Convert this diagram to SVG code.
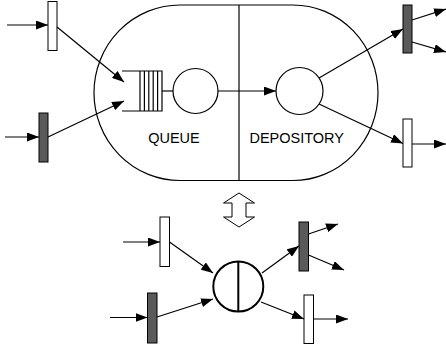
<svg xmlns="http://www.w3.org/2000/svg" width="446" height="349" viewBox="0 0 446 349">
<style>
.ln{stroke:#000;stroke-width:1.2;fill:none}
.ar{stroke:#000;stroke-width:1.2;fill:none;marker-end:url(#ah)}
.wb{fill:#fff;stroke:#000;stroke-width:1}
.db{fill:#5a5a5a;stroke:#000;stroke-width:1}
.lbl{font-family:"Liberation Sans",Arial,sans-serif;font-size:14.5px;fill:#000;text-anchor:middle}
</style>
<defs>
<marker id="ah" markerUnits="userSpaceOnUse" markerWidth="12" markerHeight="9" refX="12" refY="4.5" orient="auto">
<path d="M0,0 L12,4.5 L0,9 z" fill="#000"/>
</marker>
</defs>
<rect width="446" height="349" fill="#fff"/>
<g id="system">
<path class="ln" d="M180,5 H293 A85,87.75 0 0 1 293,180.5 H180 A86,87.75 0 0 1 180,5 Z"/>
<line class="ln" x1="239" y1="5" x2="239" y2="180.5"/>
</g>
<g id="queue">
<path class="ln" d="M122,71 H162 V111 H122"/>
<path class="ln" d="M140,71 V111 M144.4,71 V111 M148.8,71 V111 M153.2,71 V111 M157.6,71 V111"/>
<circle class="ln" cx="195.5" cy="91" r="22.5"/>
<text class="lbl" x="174" y="142.5">QUEUE</text>
</g>
<g id="depository">
<circle class="ln" cx="299.5" cy="91" r="23.5"/>
<text class="lbl" x="296.7" y="142.5">DEPOSITORY</text>
</g>
<g id="in-white-top"><rect class="wb" x="48" y="1.5" width="9" height="49"/></g>
<g id="in-dark-top"><rect class="db" x="39" y="113" width="9" height="49"/></g>
<g id="out-dark-top"><rect class="db" x="403" y="5" width="9" height="48"/></g>
<g id="out-white-top"><rect class="wb" x="403" y="119" width="9" height="48"/></g>
<g id="double-arrow">
<path fill="#fff" stroke="#000" stroke-width="1" d="M239,193 L254.5,203 H246 V217 H254.5 L239,227 L223.5,217 H232 V203 H223.5 Z"/>
</g>
<g id="in-white-bottom"><rect class="wb" x="160" y="217" width="9.5" height="49.5"/></g>
<g id="in-dark-bottom"><rect class="db" x="147.5" y="293" width="9.5" height="50"/></g>
<g id="combined">
<circle fill="#fff" stroke="#000" stroke-width="2" cx="238.3" cy="286.5" r="25"/>
<line stroke="#000" stroke-width="2" x1="238.3" y1="261.5" x2="238.3" y2="311.5"/>
</g>
<g id="out-dark-bottom"><rect class="db" x="299" y="222" width="9.5" height="49"/></g>
<g id="out-white-bottom"><rect class="wb" x="304" y="295" width="9.5" height="48.5"/></g>
<g id="connectors">
<line class="ar" x1="7" y1="25" x2="48" y2="25"/>
<line class="ar" x1="57" y1="27" x2="124" y2="82"/>
<line class="ar" x1="5" y1="137" x2="39" y2="137"/>
<line class="ar" x1="48" y1="137" x2="124" y2="101"/>
<line class="ln" x1="162" y1="91" x2="173" y2="91"/>
<line class="ar" x1="218" y1="91" x2="276" y2="91"/>
<line class="ar" x1="319" y1="78" x2="403" y2="29"/>
<line class="ar" x1="412" y1="20" x2="446" y2="9"/>
<line class="ar" x1="412" y1="42" x2="446" y2="52"/>
<line class="ar" x1="319" y1="104" x2="403" y2="143.5"/>
<line class="ar" x1="412" y1="144" x2="446" y2="144"/>
<line class="ar" x1="123" y1="242" x2="160" y2="242"/>
<line class="ar" x1="169.5" y1="242" x2="213" y2="273"/>
<line class="ar" x1="110" y1="317.5" x2="147.5" y2="317.5"/>
<line class="ar" x1="157" y1="317" x2="213" y2="299"/>
<line class="ar" x1="262" y1="273" x2="299" y2="246"/>
<line class="ar" x1="308.5" y1="234" x2="338" y2="224"/>
<line class="ar" x1="308.5" y1="255" x2="344" y2="270"/>
<line class="ar" x1="261" y1="302" x2="304" y2="319"/>
<line class="ar" x1="313.5" y1="319" x2="348" y2="319"/>
</g>
</svg>
